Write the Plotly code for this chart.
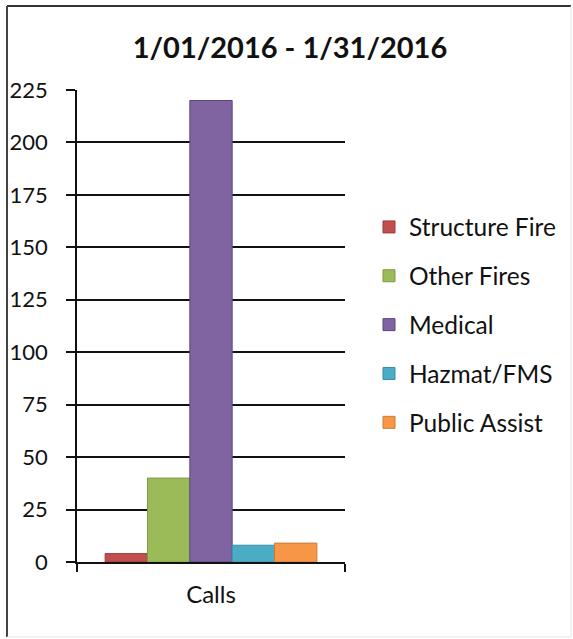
import plotly.graph_objects as go

categories = ["Calls"]
series_names = ["Structure Fire", "Other Fires", "Medical", "Hazmat/FMS", "Public Assist"]
series_values = [4, 40, 220, 8, 9]
colors = ["#C0504D", "#9BBB59", "#8064A2", "#4BACC6", "#F79646"]
edge_colors = ["#9c3b39", "#7d9a44", "#5a4580", "#3a8ca3", "#d07a35"]
y_ticks = [0, 25, 50, 75, 100, 125, 150, 175, 200, 225]
title_text = "1/01/2016 - 1/31/2016"

W, H = 573, 639
L, R, T, B = 77, 345, 90, 562

fig = go.Figure()
for i, (name, val) in enumerate(zip(series_names, series_values)):
    fig.add_trace(go.Bar(
        x=categories, y=[val], name=name,
        marker=dict(color=colors[i], line=dict(color=edge_colors[i], width=1)),
        legendgroup=str(i),
    ))

def px(xp):
    return (xp - L) / (R - L)

def py(yp):
    return (B - yp) / (B - T)

font_family = "Lato, 'Open Sans', sans-serif"

frame = [
    dict(x0=px(7), x1=px(571), y0=py(6), y1=py(6), color="#333", width=2),
    dict(x0=px(7), x1=px(7), y0=py(6), y1=py(637), color="#444", width=2),
    dict(x0=px(571), x1=px(571), y0=py(6), y1=py(637), color="#e4e4e4", width=1),
    dict(x0=px(7), x1=px(571), y0=py(637), y1=py(637), color="#e4e4e4", width=1),
]
shapes = [dict(type="line", xref="paper", yref="paper", x0=f["x0"], x1=f["x1"],
               y0=f["y0"], y1=f["y1"], line=dict(color=f["color"], width=f["width"]),
               layer="below") for f in frame]

fig.update_layout(
    width=W, height=H,
    margin=dict(l=L, r=W - R, t=T, b=H - B, autoexpand=False),
    paper_bgcolor="white", plot_bgcolor="white",
    barmode="group", bargap=0.21, bargroupgap=0,
    title=dict(text="<b>" + title_text + "</b>", x=290 / W, xanchor="center",
               y=1 - 48 / H, yanchor="middle",
               font=dict(family=font_family, size=29, color="#111")),
    font=dict(family=font_family, color="#111"),
    showlegend=True,
    legend=dict(x=px(369), xanchor="left", y=py(325), yanchor="middle",
                traceorder="grouped", tracegroupgap=14, itemwidth=30,
                font=dict(size=24.5, color="#111"), bgcolor="rgba(0,0,0,0)"),
    shapes=shapes,
)
fig.update_yaxes(range=[0, 225], tickvals=y_ticks, showgrid=True, gridcolor="#111",
                 gridwidth=1.5, showline=True, linecolor="#111", linewidth=1.5,
                 ticks="outside", ticklen=9, tickcolor="#111", tickwidth=1.5,
                 ticklabelstandoff=14,
                 tickfont=dict(size=22, color="#111"), zeroline=False, fixedrange=True)
fig.update_xaxes(showline=True, linecolor="#111", linewidth=1.5, ticks="outside",
                 tickson="boundaries", ticklen=8, tickcolor="#111", tickwidth=1.5,
                 ticklabelstandoff=10,
                 tickfont=dict(size=24, color="#111"), showgrid=False)

fig.write_html("out.html", config={"displayModeBar": False},
               post_script="document.body.style.margin='0';document.body.style.overflow='hidden';")
